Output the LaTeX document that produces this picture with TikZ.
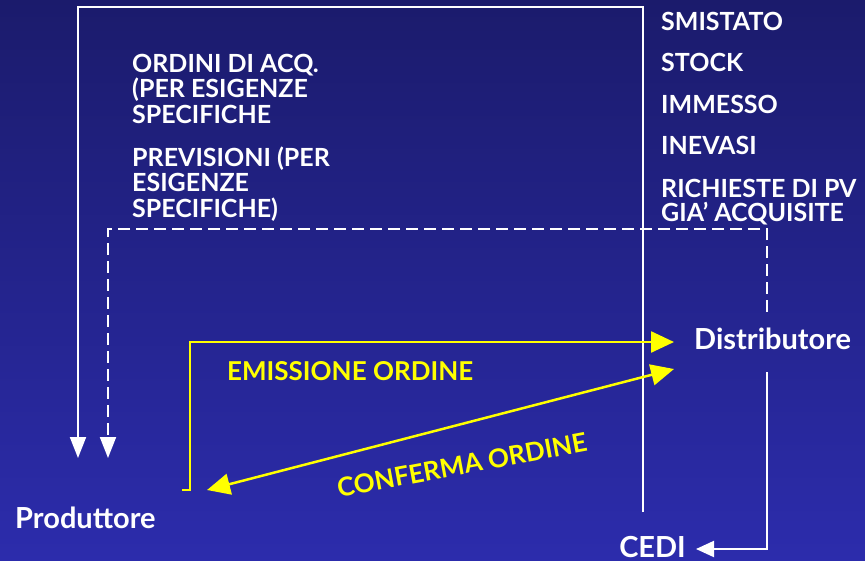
\documentclass[tikz,border=0pt]{standalone}
\usepackage{fontspec}
\setmainfont{Lato}
\usetikzlibrary{arrows.meta,positioning}
\definecolor{bgtop}{RGB}{27,27,108}
\definecolor{bgbot}{RGB}{44,44,172}
\definecolor{ordyellow}{RGB}{255,255,0}

\begin{document}
\begin{tikzpicture}[x=1pt, y=-1pt,
  every node/.style={inner sep=0pt, text=white},
  lbl/.style={anchor=base west, align=left, font=\fontsize{25}{25.5}\selectfont\bfseries},
  actor/.style={anchor=base west, font=\fontsize{29}{30}\selectfont\bfseries},
  ordlbl/.style={anchor=base west, text=ordyellow, font=\fontsize{26}{26}\selectfont\bfseries},
  flow/.style={draw=white, line width=2pt},
  order/.style={draw=ordyellow, line width=2.5pt}]
  \fill[top color=bgtop, bottom color=bgbot] (0,0) rectangle (865,560);
  \useasboundingbox (0,0) rectangle (865,560);

  % actors
  \node[actor] (prod) at (15,528) {Produttore};
  \node[actor] (distr) at (694,349) {Distributore};
  \node[actor, anchor=base east] (cedi) at (686,557) {CEDI};

  % information on the left (base = last line)
  \node[lbl] (ordini) at (132,123) {ORDINI DI ACQ.\\(PER ESIGENZE\\SPECIFICHE};
  \node[lbl] (prev) at (132,217) {PREVISIONI (PER\\ESIGENZE\\SPECIFICHE)};

  % information on the right
  \node[lbl] (smist) at (661,30) {SMISTATO};
  \node[lbl] (stock) at (661,71) {STOCK};
  \node[lbl] (immesso) at (661,113) {IMMESSO};
  \node[lbl] (inevasi) at (661,154) {INEVASI};
  \node[lbl, font=\fontsize{25}{24}\selectfont\bfseries] (rich) at (661,221) {RICHIESTE DI PV\\GIA’ ACQUISITE};

  % order labels
  \node[ordlbl] (emiss) at (227,380) {EMISSIONE ORDINE};
  \node[ordlbl, anchor=center, rotate=10.5] (conf) at (462,465) {CONFERMA ORDINE};

  % end points
  \coordinate (infotop) at (643,512);
  \coordinate (prodin) at (78,458);
  \coordinate (previn) at (108,458);
  \coordinate (distrout) at (767,312);
  \coordinate (distrdown) at (767,372);
  \coordinate (emitfoot) at (182,490);
  \coordinate (emitin) at (674,342);
  \coordinate (confin) at (674,369);
  \coordinate (confout) at (207,490);

  % white flows
  \draw[flow, -{Triangle[length=21pt,width=16pt]}] (infotop) -- (643,7) -- (78,7) -- (prodin);
  \draw[flow, dash pattern=on 12pt off 6pt, -{Triangle[length=21pt,width=16pt]}]
    (distrout) -- (767,229) -- (108,229) -- (previn);
  \draw[flow, -{Triangle[length=18pt,width=16pt]}] (distrdown) -- (767,549) -- ([xshift=10pt]cedi.east |- 0,549);

  % yellow flows
  \draw[order, -{Triangle[length=23pt,width=21pt]}] (emitfoot) -- (190,490) -- (190,342) -- (emitin);
  \draw[order, {Triangle[length=23pt,width=21pt]}-{Triangle[length=23pt,width=21pt]}] (confout) -- (confin);
\end{tikzpicture}
\end{document}
